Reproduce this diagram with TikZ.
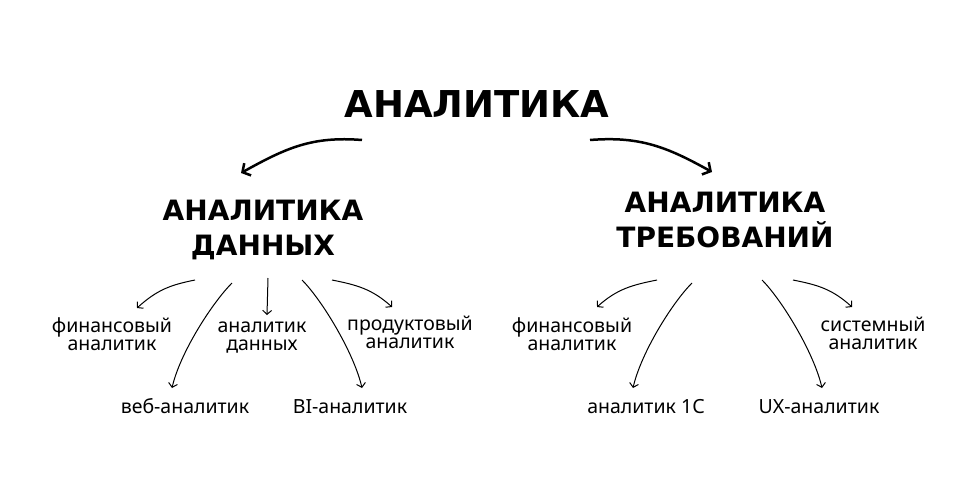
\documentclass[tikz,border=0pt]{standalone}
\usepackage{fontspec}
\setmainfont{Noto Sans}
\newfontfamily\headfont{DejaVu Sans}
\usetikzlibrary{arrows.meta}
\tikzset{
  titlebox/.style={inner sep=0pt, anchor=base, font={\headfont\bfseries\fontsize{37}{40}\selectfont}},
  headbox/.style={inner sep=0pt, anchor=base, align=center, font={\headfont\bfseries\fontsize{28}{35}\selectfont}},
  leafbox/.style={inner sep=0pt, anchor=base, align=center, font={\fontsize{19.5}{18}\selectfont}},
  bigarrow/.style={line width=2.5pt, -{Straight Barb[length=6pt,width=14pt]}},
  smallarrow/.style={line width=1pt, -{Straight Barb[length=4pt,width=9pt]}},
}
\begin{document}
\begin{tikzpicture}[x=1pt,y=-1pt]
        \useasboundingbox (0,0) rectangle (974,482);
        %заголовки
        \node[titlebox] (main) at (477,117) {АНАЛИТИКА};
        \node[headbox] (data) at (263,255) {АНАЛИТИКА\\ДАННЫХ};
        \node[headbox] (req) at (725,247) {АНАЛИТИКА\\ТРЕБОВАНИЙ};
        \draw[bigarrow] ([shift={(-115,23)}]main.base) .. controls +(-50,-4) and +(45,-25) .. ([shift={(-22,-82)}]data.base);
        \draw[bigarrow] ([shift={(113,23)}]main.base) .. controls +(50,-4) and +(-45,-25) .. ([shift={(-13,-75)}]req.base);
        %аналитика данных
        \node[leafbox] (fin1) at (112,350) {финансовый\\аналитик};
        \node[leafbox] (web) at (185,413) {веб-аналитик};
        \node[leafbox] (dan) at (262,350) {аналитик\\данных};
        \node[leafbox] (bi) at (350,413) {BI-аналитик};
        \node[leafbox] (prod) at (410,348) {продуктовый\\аналитик};
        \draw[smallarrow] ([shift={(-68,25)}]data.base) .. controls +(-25,5) and +(20,-18) .. ([shift={(25,-42)}]fin1.base);
        \draw[smallarrow] ([shift={(-31,28)}]data.base) .. controls +(-20,20) and +(8,-35) .. ([shift={(-13,-25)}]web.base);
        \draw[smallarrow] ([shift={(5,23)}]data.base) -- ([shift={(5,-35)}]dan.base);
        \draw[smallarrow] ([shift={(39,25)}]data.base) .. controls +(20,20) and +(-8,-35) .. ([shift={(12,-25)}]bi.base);
        \draw[smallarrow] ([shift={(69,25)}]data.base) .. controls +(25,5) and +(-20,-18) .. ([shift={(-18,-41)}]prod.base);
        %аналитика требований
        \node[leafbox] (fin2) at (572,350) {финансовый\\аналитик};
        \node[leafbox] (onec) at (646,413) {аналитик 1С};
        \node[leafbox] (ux) at (819,413) {UX-аналитик};
        \node[leafbox] (sys) at (873,349) {системный\\аналитик};
        \draw[smallarrow] ([shift={(-68,33)}]req.base) .. controls +(-25,5) and +(20,-18) .. ([shift={(25,-43)}]fin2.base);
        \draw[smallarrow] ([shift={(-33,36)}]req.base) .. controls +(-20,20) and +(8,-35) .. ([shift={(-13,-25)}]onec.base);
        \draw[smallarrow] ([shift={(37,33)}]req.base) .. controls +(20,20) and +(-8,-35) .. ([shift={(3,-25)}]ux.base);
        \draw[smallarrow] ([shift={(68,33)}]req.base) .. controls +(25,5) and +(-20,-18) .. ([shift={(-21,-42)}]sys.base);
\end{tikzpicture}
\end{document}
